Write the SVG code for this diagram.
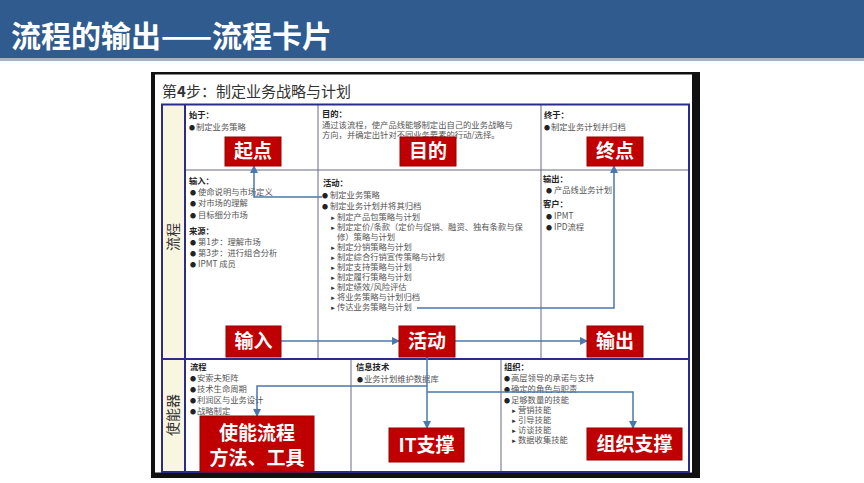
<svg xmlns="http://www.w3.org/2000/svg" width="864" height="483" viewBox="0 0 864 483">
<defs>
<marker id="ah" markerWidth="8" markerHeight="8" refX="7" refY="4" orient="auto" markerUnits="userSpaceOnUse">
<path d="M0,0 L8,4 L0,8 Z" fill="#4a78ae"/>
</marker>
<style>
.t{font-family:"Noto Sans CJK SC","Liberation Sans",sans-serif;font-size:8.3px;fill:#555}
.h{font-weight:bold;fill:#222}
.b{font-size:6px;fill:#222}
.s{font-size:6px;fill:#333}
.box{fill:#c00000;stroke:#9a0000;stroke-width:1}
.bt{font-family:"Noto Sans CJK SC","Liberation Sans",sans-serif;font-weight:bold;font-size:19px;fill:#fff;text-anchor:middle}
.con{fill:none;stroke:#4a78ae;stroke-width:1.5;marker-end:url(#ah)}
.grid{stroke:#6a6a80;stroke-width:1;fill:none}
.navy{stroke:#2b2b8a;stroke-width:2;fill:none}
.side{font-family:"Noto Sans CJK SC","Liberation Sans",sans-serif;font-size:14px;fill:#333;text-anchor:middle}
</style>
</defs>
<rect width="864" height="483" fill="#fff"/>
<rect x="0" y="0" width="864" height="58" fill="#2f5b8f"/>
<rect x="0" y="58" width="864" height="3" fill="#aab3bd"/>
<text x="11" y="47" font-family="Noto Sans CJK SC,Liberation Sans,sans-serif" font-weight="bold" font-size="30" fill="#fff">流程的输出——流程卡片</text>

<g id="card">
<rect x="151" y="72" width="549" height="406" fill="#111"/>
<rect x="155" y="74.5" width="537" height="398" fill="#fff"/>
<text x="162" y="97" font-family="Noto Sans CJK SC,Liberation Sans,sans-serif" font-size="15" fill="#333">第<tspan font-weight="bold">4</tspan>步：制定业务战略与计划</text>
<rect x="162" y="104.5" width="23" height="367.5" fill="#f8f5e0"/>
<line class="grid" x1="318" y1="104" x2="318" y2="359"/>
<line class="grid" x1="541" y1="104" x2="541" y2="359"/>
<line class="grid" x1="185" y1="170" x2="689" y2="170"/>
<line class="grid" x1="351" y1="359" x2="351" y2="472"/>
<line class="grid" x1="501" y1="359" x2="501" y2="472"/>
<line class="navy" x1="185" y1="104" x2="185" y2="472"/>
<line class="navy" x1="162" y1="359" x2="689" y2="359"/>
<rect class="navy" x="162" y="104.5" width="527" height="367.5"/>
<text class="side" transform="translate(178,237) rotate(-90)">流程</text>
<text class="side" transform="translate(178,415) rotate(-90)">使能器</text>
</g>

<g id="cell-start">
<text class="t h" x="189" y="118">始于：</text>
<text class="t" y="130"><tspan class="b" x="189">●</tspan><tspan x="196">制定业务策略</tspan></text>
</g>
<g id="cell-purpose">
<text class="t h" x="322" y="117">目的：</text>
<text class="t" x="322" y="128">通过该流程，使产品线能够制定出自己的业务战略与</text>
<text class="t" x="322" y="138">方向，并确定出针对不同业务要素的行动/选择。</text>
</g>
<g id="cell-end">
<text class="t h" x="544" y="118">终于：</text>
<text class="t" y="130"><tspan class="b" x="544">●</tspan><tspan x="551">制定业务计划并归档</tspan></text>
</g>
<g id="cell-input">
<text class="t h" x="189" y="184">输入：</text>
<text class="t" y="195"><tspan class="b" x="190">●</tspan><tspan x="198">使命说明与市场定义</tspan></text>
<text class="t" y="206"><tspan class="b" x="190">●</tspan><tspan x="198">对市场的理解</tspan></text>
<text class="t" y="218"><tspan class="b" x="190">●</tspan><tspan x="198">目标细分市场</tspan></text>
<text class="t h" x="189" y="234">来源：</text>
<text class="t" y="245"><tspan class="b" x="190">●</tspan><tspan x="198">第1步：理解市场</tspan></text>
<text class="t" y="256"><tspan class="b" x="190">●</tspan><tspan x="198">第3步：进行组合分析</tspan></text>
<text class="t" y="267"><tspan class="b" x="190">●</tspan><tspan x="198">IPMT 成员</tspan></text>
</g>
<g id="cell-activity">
<text class="t h" x="323" y="186">活动：</text>
<text class="t" y="198"><tspan class="b" x="322">●</tspan><tspan x="330">制定业务策略</tspan></text>
<text class="t" y="209"><tspan class="b" x="322">●</tspan><tspan x="330">制定业务计划并将其归档</tspan></text>
<text class="t" y="220"><tspan class="s" x="330">►</tspan><tspan x="337">制定产品包策略与计划</tspan></text>
<text class="t" y="230"><tspan class="s" x="330">►</tspan><tspan x="337">制定定价/条款（定价与促销、融资、独有条款与保</tspan></text>
<text class="t" x="337" y="240">修）策略与计划</text>
<text class="t" y="250"><tspan class="s" x="330">►</tspan><tspan x="337">制定分销策略与计划</tspan></text>
<text class="t" y="260"><tspan class="s" x="330">►</tspan><tspan x="337">制定综合行销宣传策略与计划</tspan></text>
<text class="t" y="270"><tspan class="s" x="330">►</tspan><tspan x="337">制定支持策略与计划</tspan></text>
<text class="t" y="280"><tspan class="s" x="330">►</tspan><tspan x="337">制定履行策略与计划</tspan></text>
<text class="t" y="290"><tspan class="s" x="330">►</tspan><tspan x="337">制定绩效/风险评估</tspan></text>
<text class="t" y="300"><tspan class="s" x="330">►</tspan><tspan x="337">将业务策略与计划归档</tspan></text>
<text class="t" y="310"><tspan class="s" x="330">►</tspan><tspan x="337">传达业务策略与计划</tspan></text>
</g>
<g id="cell-output">
<text class="t h" x="543" y="182">输出：</text>
<text class="t" y="193"><tspan class="b" x="546">●</tspan><tspan x="554">产品线业务计划</tspan></text>
<text class="t h" x="543" y="207">客户：</text>
<text class="t" y="219"><tspan class="b" x="546">●</tspan><tspan x="554">IPMT</tspan></text>
<text class="t" y="230"><tspan class="b" x="546">●</tspan><tspan x="554">IPD流程</tspan></text>
</g>
<g id="cell-process">
<text class="t h" x="190" y="370">流程</text>
<text class="t" y="381"><tspan class="b" x="190">●</tspan><tspan x="197">安索夫矩阵</tspan></text>
<text class="t" y="392"><tspan class="b" x="190">●</tspan><tspan x="197">技术生命周期</tspan></text>
<text class="t" y="403"><tspan class="b" x="190">●</tspan><tspan x="197">利润区与业务设计</tspan></text>
<text class="t" y="414"><tspan class="b" x="190">●</tspan><tspan x="197">战略制定</tspan></text>
</g>
<g id="cell-it">
<text class="t h" x="356" y="370">信息技术</text>
<text class="t" y="382"><tspan class="b" x="357">●</tspan><tspan x="364">业务计划维护数据库</tspan></text>
</g>
<g id="cell-org">
<text class="t h" x="504" y="370">组织：</text>
<text class="t" y="381"><tspan class="b" x="504">●</tspan><tspan x="511">高层领导的承诺与支持</tspan></text>
<text class="t" y="392"><tspan class="b" x="504">●</tspan><tspan x="511">确定的角色与职责</tspan></text>
<text class="t" y="403"><tspan class="b" x="504">●</tspan><tspan x="511">足够数量的技能</tspan></text>
<text class="t" y="413"><tspan class="s" x="511">►</tspan><tspan x="518">营销技能</tspan></text>
<text class="t" y="423"><tspan class="s" x="511">►</tspan><tspan x="518">引导技能</tspan></text>
<text class="t" y="433"><tspan class="s" x="511">►</tspan><tspan x="518">访谈技能</tspan></text>
<text class="t" y="443"><tspan class="s" x="511">►</tspan><tspan x="518">数据收集技能</tspan></text>
</g>

<g id="connectors">
<path class="con" d="M281,341 H399"/>
<path class="con" d="M455,341 H587"/>
<path class="con" d="M322,197 H254 V166"/>
<path class="con" d="M417,308 H614 V166"/>
<path class="con" d="M427,357 V428"/>
<path class="con" d="M427,386 H257 V416"/>
<path class="con" d="M427,392 H633 V428"/>
</g>

<g id="node-start"><rect class="box" x="225" y="137" width="56" height="29"/><text class="bt" x="253" y="158">起点</text></g>
<g id="node-purpose"><rect class="box" x="400" y="137" width="56" height="29"/><text class="bt" x="428" y="158">目的</text></g>
<g id="node-end"><rect class="box" x="587" y="137" width="56" height="29"/><text class="bt" x="615" y="158">终点</text></g>
<g id="node-input"><rect class="box" x="226" y="326" width="55" height="31"/><text class="bt" x="253.5" y="348">输入</text></g>
<g id="node-activity"><rect class="box" x="399" y="326" width="56" height="31"/><text class="bt" x="427" y="348">活动</text></g>
<g id="node-output"><rect class="box" x="587" y="326" width="56" height="31"/><text class="bt" x="615" y="348">输出</text></g>
<g id="node-enable"><rect class="box" x="200" y="416" width="114" height="56"/><text class="bt" x="257" y="440" font-size="20">使能流程</text><text class="bt" x="257" y="465" font-size="20">方法、工具</text></g>
<g id="node-it"><rect class="box" x="389" y="428" width="75" height="34"/><text class="bt" x="426.5" y="452">IT支撑</text></g>
<g id="node-org"><rect class="box" x="587" y="428" width="95" height="32"/><text class="bt" x="634.5" y="451">组织支撑</text></g>
</svg>
